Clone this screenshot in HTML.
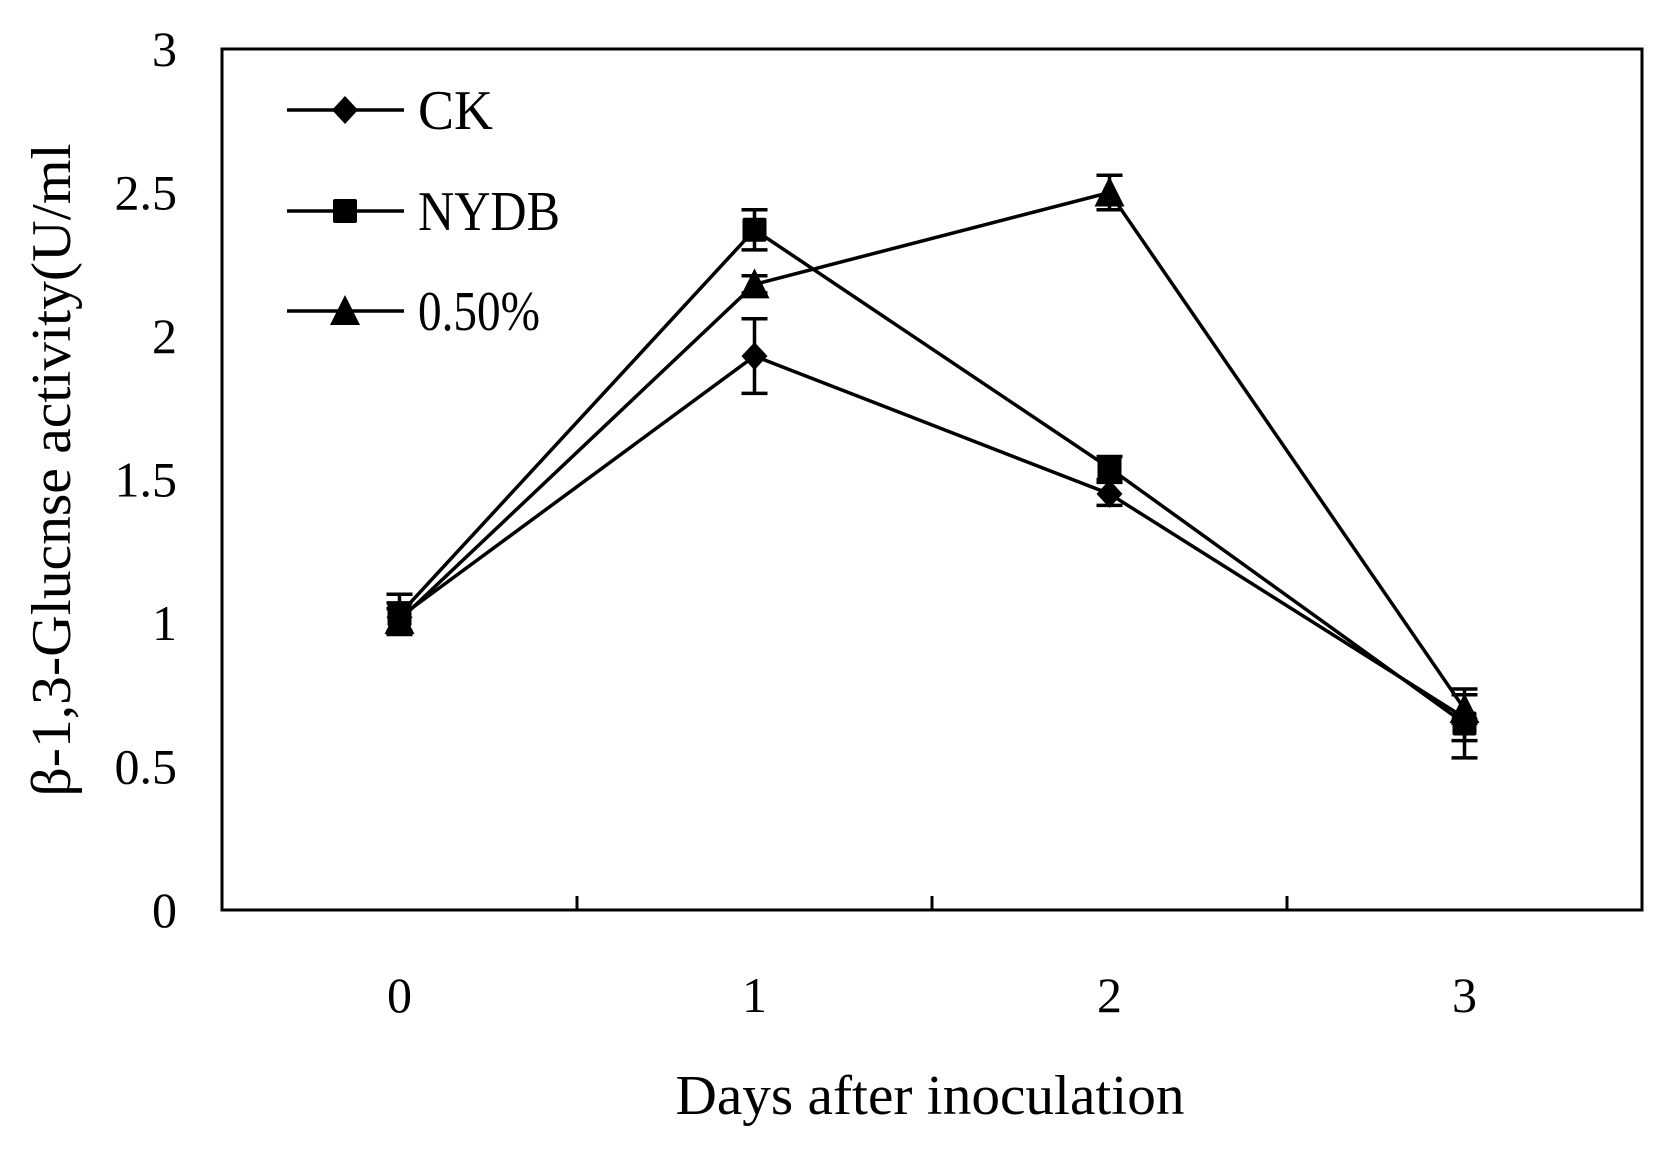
<!DOCTYPE html>
<html><head><meta charset="utf-8"><style>html,body{margin:0;padding:0;background:#fff}svg{display:block}text{font-family:"Liberation Serif",serif;fill:#000}</style></head>
<body>
<svg id="chart" width="1677" height="1150" viewBox="0 0 1677 1150" xmlns="http://www.w3.org/2000/svg"></svg>
<script>
const categories = ["0","1","2","3"];
const yTicks = [0,0.5,1,1.5,2,2.5,3];
const yTickLabels = ["0","0.5","1","1.5","2","2.5","3"];
const ckValues = [1.02,1.93,1.45,0.67];
const ckErrors = [0.05,0.13,0.04,0.08];
const nydbValues = [1.03,2.37,1.54,0.65];
const nydbErrors = [0.07,0.07,0.04,0.12];
const pctValues = [1.01,2.18,2.50,0.70];
const pctErrors = [0.04,0.03,0.06,0.05];
const seriesNames = ["CK","NYDB","0.50%"];

const svg = document.getElementById('chart');
const NS = 'http://www.w3.org/2000/svg';
const L=222,R=1642,T=49,B=910;
const band=(R-L)/categories.length;
const xs=i=>L+band*(i+0.5);
const ys=v=>B-(v/3)*(B-T);
function mk(tag,attrs,parent){const e=document.createElementNS(NS,tag);for(const k in attrs)e.setAttribute(k,attrs[k]);(parent||svg).appendChild(e);return e;}

const frame=mk('rect',{x:L,y:T,width:R-L,height:B-T,fill:'none',stroke:'#000','stroke-width':3});


for(let i=1;i<categories.length;i++){
  const t=mk('line',{x1:L+band*i,x2:L+band*i,y1:B,y2:B-14,stroke:'#000','stroke-width':3});
  
  
}
yTicks.forEach((v,i)=>{
  const t=mk('text',{x:177,y:ys(v)+17,'text-anchor':'end','font-size':50});
  t.textContent=yTickLabels[i];
  
  
});
categories.forEach((c,i)=>{
  const t=mk('text',{x:xs(i),y:1012,'text-anchor':'middle','font-size':50});
  t.textContent=c;
  
  
});
const xt=mk('text',{x:930,y:1114,'text-anchor':'middle','font-size':56,textLength:509,lengthAdjust:'spacingAndGlyphs'});
xt.textContent='Days after inoculation';


const yt=mk('text',{x:0,y:0,'text-anchor':'middle','font-size':56,textLength:653,lengthAdjust:'spacingAndGlyphs',transform:'translate(70,470) rotate(-90)'});
yt.textContent='β-1,3-Glucnse activity(U/ml';



function marker(type,x,y,g){
  if(type===0)return mk('polygon',{points:`${x},${y-14} ${x+13},${y} ${x},${y+14} ${x-13},${y}`,fill:'#000'},g);
  if(type===1)return mk('rect',{x:x-12,y:y-12,width:24,height:24,rx:2,fill:'#000'},g);
  return mk('polygon',{points:`${x},${y-16} ${x+15},${y+14} ${x-15},${y+14}`,fill:'#000'},g);
}
const allVals=[ckValues,nydbValues,pctValues];
const allErr=[ckErrors,nydbErrors,pctErrors];
allVals.forEach((vals,s)=>{
  const g=mk('g',{});
  
  
  const pl=mk('polyline',{points:vals.map((v,i)=>xs(i)+','+ys(v)).join(' '),fill:'none',stroke:'#000','stroke-width':3.5},g);
  
  
  vals.forEach((v,i)=>{
    const e=allErr[s][i],x=xs(i);
    const eb=mk('path',{d:`M${x},${ys(v+e)}V${ys(v-e)}M${x-13},${ys(v+e)}H${x+13}M${x-13},${ys(v-e)}H${x+13}`,stroke:'#000','stroke-width':3.5,fill:'none'},g);
    
    
    const m=marker(s,x,ys(v),g);
    
    
  });
});
const legY=[110,211,311];
const legW=[75,142,122];
seriesNames.forEach((n,s)=>{
  const g=mk('g',{});
  
  
  mk('line',{x1:287,x2:404,y1:legY[s],y2:legY[s],stroke:'#000','stroke-width':3.5},g);
  marker(s,345,legY[s],g);
  const t=mk('text',{x:418,y:legY[s]+19,'font-size':56,textLength:legW[s],lengthAdjust:'spacingAndGlyphs'},g);
  t.textContent=n;
});
</script>
</body></html>
